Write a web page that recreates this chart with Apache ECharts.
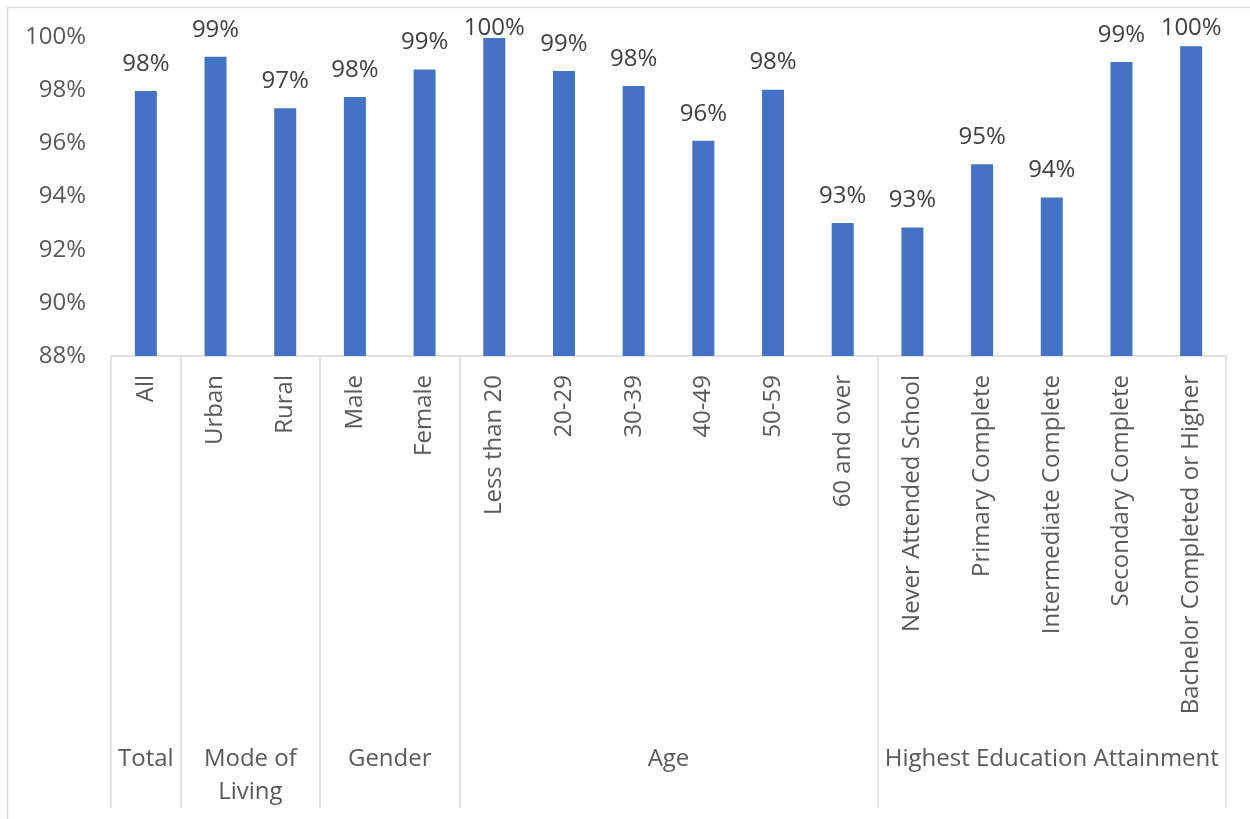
<!DOCTYPE html>
<html>
<head>
<meta charset="utf-8">
<script src="https://cdn.jsdelivr.net/npm/echarts@6/dist/echarts.min.js"></script>
<style>
html,body{margin:0;padding:0;background:#fff;}
#chart{width:1250px;height:819px;}
</style>
</head>
<body>
<div id="chart"></div>
<script>
const categories = ['All','Urban','Rural','Male','Female','Less than 20','20-29','30-39','40-49','50-59','60 and over','Never Attended School','Primary Complete','Intermediate Complete','Secondary Complete','Bachelor Completed or Higher'];
const values = [97.97, 99.26, 97.32, 97.74, 98.78, 99.96, 98.72, 98.16, 96.10, 98.02, 93.00, 92.83, 95.21, 93.96, 99.06, 99.65];
const groupNames = ['Total','Mode of\nLiving','Gender','Age','Highest Education Attainment'];
const groupSizes = [1, 2, 2, 6, 5];
const yTicks = [88, 90, 92, 94, 96, 98, 100];

// group boundaries and centres in category units
const bounds = [0];
groupSizes.forEach(s => bounds.push(bounds[bounds.length-1] + s));
const centres = groupSizes.map((s, i) => bounds[i] + s / 2);

const FONT = '"Open Sans", "Noto Sans", sans-serif';
const chart = echarts.init(document.getElementById('chart'));
chart.setOption({
  animation: false,
  backgroundColor: '#fff',
  graphic: [
    { type: 'line', shape: { x1: 7.5, y1: 7.5, x2: 1250, y2: 7.5 }, style: { stroke: '#d9d9d9', lineWidth: 1.5 } },
    { type: 'line', shape: { x1: 7.5, y1: 7.5, x2: 7.5, y2: 819 }, style: { stroke: '#d9d9d9', lineWidth: 1.5 } }
  ],
  grid: { left: 111, right: 24, top: 37, bottom: 463, containLabel: false },
  xAxis: [
    {
      type: 'category',
      data: categories,
      position: 'bottom',
      axisLine: { show: true, lineStyle: { color: '#d9d9d9', width: 1.5 } },
      axisTick: { show: false },
      axisLabel: { rotate: 90, margin: 19, color: '#595959', fontSize: 24, fontFamily: FONT, interval: 0 }
    },
    {
      type: 'value',
      min: 0,
      max: categories.length,
      position: 'bottom',
      splitLine: { show: false },
      axisLine: { show: false },
      axisTick: { show: true, customValues: bounds, length: 452, lineStyle: { color: '#d9d9d9', width: 1.5 } },
      axisLabel: {
        customValues: centres,
        margin: 387,
        color: '#595959', fontSize: 24, fontFamily: FONT, lineHeight: 33,
        formatter: function (v) {
          const i = centres.findIndex(c => Math.abs(c - v) < 1e-6);
          return i >= 0 ? groupNames[i] : '';
        }
      }
    }
  ],
  yAxis: {
    type: 'value',
    min: yTicks[0],
    max: yTicks[yTicks.length - 1],
    interval: 2,
    splitLine: { show: false },
    axisLine: { show: false },
    axisTick: { show: false },
    axisLabel: { margin: 25, color: '#595959', fontSize: 24, fontFamily: FONT, formatter: v => v + '%' }
  },
  series: [{
    type: 'bar',
    xAxisIndex: 0,
    data: values,
    barWidth: 22,
    itemStyle: { color: '#4472C4' },
    label: {
      show: true, position: 'top', distance: 15,
      color: '#404040', fontSize: 24, fontFamily: FONT,
      formatter: p => Math.round(p.value) + '%'
    }
  }],
  labelLayout: function (params) {
    const minY = 16;
    if (params.labelRect && params.labelRect.y < minY) {
      return { dy: minY - params.labelRect.y };
    }
    return {};
  }
});
</script>
</body>
</html>
